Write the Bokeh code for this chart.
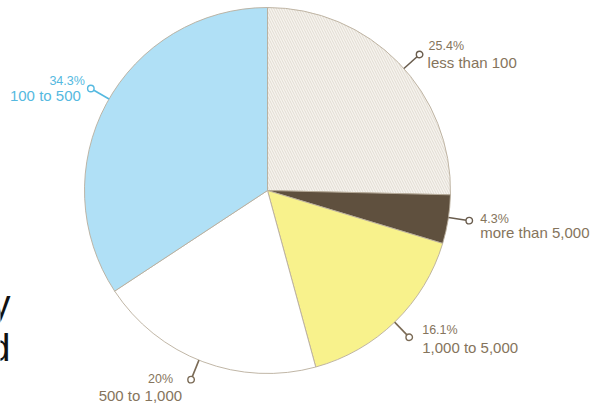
import numpy as np
from bokeh.plotting import figure
from bokeh.models import Range1d, ColumnDataSource
from bokeh.core.properties import value
from bokeh.embed import file_html
from bokeh.resources import INLINE

# ---- data ----
categories = ["less than 100", "more than 5,000", "1,000 to 5,000", "500 to 1,000", "100 to 500"]
shares = [25.4, 4.3, 16.1, 20.0, 34.3]
pct_labels = ["25.4%", "4.3%", "16.1%", "20%", "34.3%"]

# ---- styles / layout ----
fills = ["#f6f3ee", "#5f503e", "#f8f28c", "#ffffff", "#b0e0f6"]
hatches = ["\\", " ", " ", " ", " "]
text_colors = ["#85745c", "#85745c", "#85745c", "#85745c", "#55b9e0"]
line_colors = ["#6a5d4e", "#6a5d4e", "#7a6a55", "#7a6a55", "#55b9e0"]
callout_deg = [41.8, -8.5, -46.0, -112.0, 150.0]
# (dx, dy, align) offsets of the two text lines from the callout circle, in px (y down)
pct_off = [(9, -9, "left"), (11, -2, "left"), (13, -7, "left"), (-18, -1, "right"), (-6, -8, "right")]
cat_off = [(8, 8, "left"), (11, 12, "left"), (13, 10, "left"), (-9, 16, "right"), (-10, 7, "right")]

W, H = 590, 405
CX, CY, R = 267, -190, 183
R_DOT = 204

total = float(sum(shares))
cum = np.cumsum([0.0] + shares) / total
start_cw = np.pi / 2 - 2 * np.pi * cum[:-1]
end_cw = np.pi / 2 - 2 * np.pi * cum[1:]

src = ColumnDataSource(dict(
    start=end_cw, end=start_cw, fill=fills, hatch=hatches, cat=categories,
))

p = figure(width=W, height=H, x_range=Range1d(0, W), y_range=Range1d(-H, 0),
           output_backend="svg", toolbar_location=None, min_border=0,
           x_axis_location=None, y_axis_location=None)
p.grid.visible = False
p.outline_line_color = None
p.background_fill_color = "white"
p.border_fill_color = "white"

p.wedge(x=CX, y=CY, radius=R, start_angle="start", end_angle="end", direction="anticlock",
        fill_color="fill", line_color="#b9ae9c", line_width=0.9,
        hatch_pattern="hatch", hatch_color="#d3ccc0", hatch_scale=5, hatch_weight=0.6,
        source=src)

ang = np.radians(callout_deg)
x_in = CX + R * np.cos(ang)
y_in = CY + R * np.sin(ang)
x_dot = CX + R_DOT * np.cos(ang)
y_dot = CY + R_DOT * np.sin(ang)
x_end = CX + (R_DOT - 3) * np.cos(ang)
y_end = CY + (R_DOT - 3) * np.sin(ang)

p.segment(x0=x_in, y0=y_in, x1=x_end, y1=y_end, line_color=line_colors, line_width=1.6)
p.scatter(x=x_dot, y=y_dot, marker="circle", size=6.5, fill_color="white",
          line_color=line_colors, line_width=1.4)

for i in range(len(categories)):
    dx, dy, al = pct_off[i]
    p.text(x=[x_dot[i] + dx], y=[y_dot[i] - dy], text=[pct_labels[i]],
           text_font=value("Liberation Sans"), text_font_size="12.5px",
           text_color=text_colors[i], text_align=al, text_baseline="middle")
    dx, dy, al = cat_off[i]
    p.text(x=[x_dot[i] + dx], y=[y_dot[i] - dy], text=[categories[i]],
           text_font=value("Liberation Sans"), text_font_size="15px",
           text_color=text_colors[i], text_align=al, text_baseline="middle")

# cropped fragments of a larger text at the left edge
p.text(x=[10, 10], y=[-303, -347], text=["y", "d"], text_font=value("Liberation Sans"),
       text_font_size="38px", text_color="#111111", text_align="right",
       text_baseline="alphabetic")

open("out.html", "w").write(file_html(p, INLINE))
